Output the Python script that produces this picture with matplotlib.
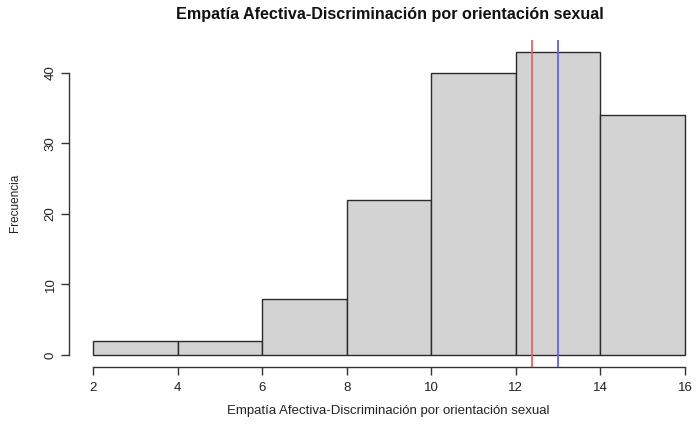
import matplotlib
matplotlib.use("Agg")
import matplotlib.pyplot as plt
import numpy as np

plt.rcParams['font.family'] = ['Liberation Sans', 'DejaVu Sans']

bin_edges = [2, 4, 6, 8, 10, 12, 14, 16]
counts = [2, 2, 8, 22, 40, 43, 34]
mean_value = 12.37
median_value = 13.0
x_ticks = [2, 4, 6, 8, 10, 12, 14, 16]
y_ticks = [0, 10, 20, 30, 40]
title = "Empatía Afectiva-Discriminación por orientación sexual"
xlabel = "Empatía Afectiva-Discriminación por orientación sexual"
ylabel = "Frecuencia"

W, H = 696, 424
fig = plt.figure(figsize=(W / 100, H / 100), dpi=100)
left_px, right_px = 69, 696
top_px, bottom_px = 39.7, 367.1
ax = fig.add_axes([left_px / W, (H - bottom_px) / H,
                   (right_px - left_px) / W, (bottom_px - top_px) / H])

lefts = bin_edges[:-1]
widths = np.diff(bin_edges)
ax.bar(lefts, counts, width=widths, align='edge', color='#D3D3D3',
       edgecolor='#2a2a2a', linewidth=1.0, zorder=2)

ax.axvline(mean_value, color='#F06060', linewidth=1.3, zorder=3)
ax.axvline(median_value, color='#6060F0', linewidth=1.3, zorder=3)

ax.set_xlim(1.4325, 16.26)
ax.set_ylim(-1.72, 44.72)

for s in ['top', 'right']:
    ax.spines[s].set_visible(False)
ax.spines['left'].set_bounds(0, 40)
ax.spines['bottom'].set_bounds(2, 16)
for s in ['left', 'bottom']:
    ax.spines[s].set_color('#333333')
    ax.spines[s].set_linewidth(1.0)

ax.set_xticks(x_ticks)
ax.set_yticks(y_ticks)
ax.tick_params(axis='both', length=6, width=1.0, color='#333333',
               labelsize=9.5, labelcolor='#222222')
ax.tick_params(axis='x', pad=5)
ax.tick_params(axis='y', pad=3)
for lab in ax.get_yticklabels():
    lab.set_rotation(90)
    lab.set_va('center')

fig.text(390 / W, 1 - 15 / H, title, ha='center', va='center',
         fontsize=11.6, fontweight='bold', color='#111111')
fig.text(388 / W, 1 - 411 / H, xlabel, ha='center', va='center',
         fontsize=9.5, color='#222222')
fig.text(15 / W, 1 - 203 / H, ylabel, ha='center', va='center',
         rotation=90, fontsize=8.5, color='#222222')

fig.savefig('out.png', dpi=100)
